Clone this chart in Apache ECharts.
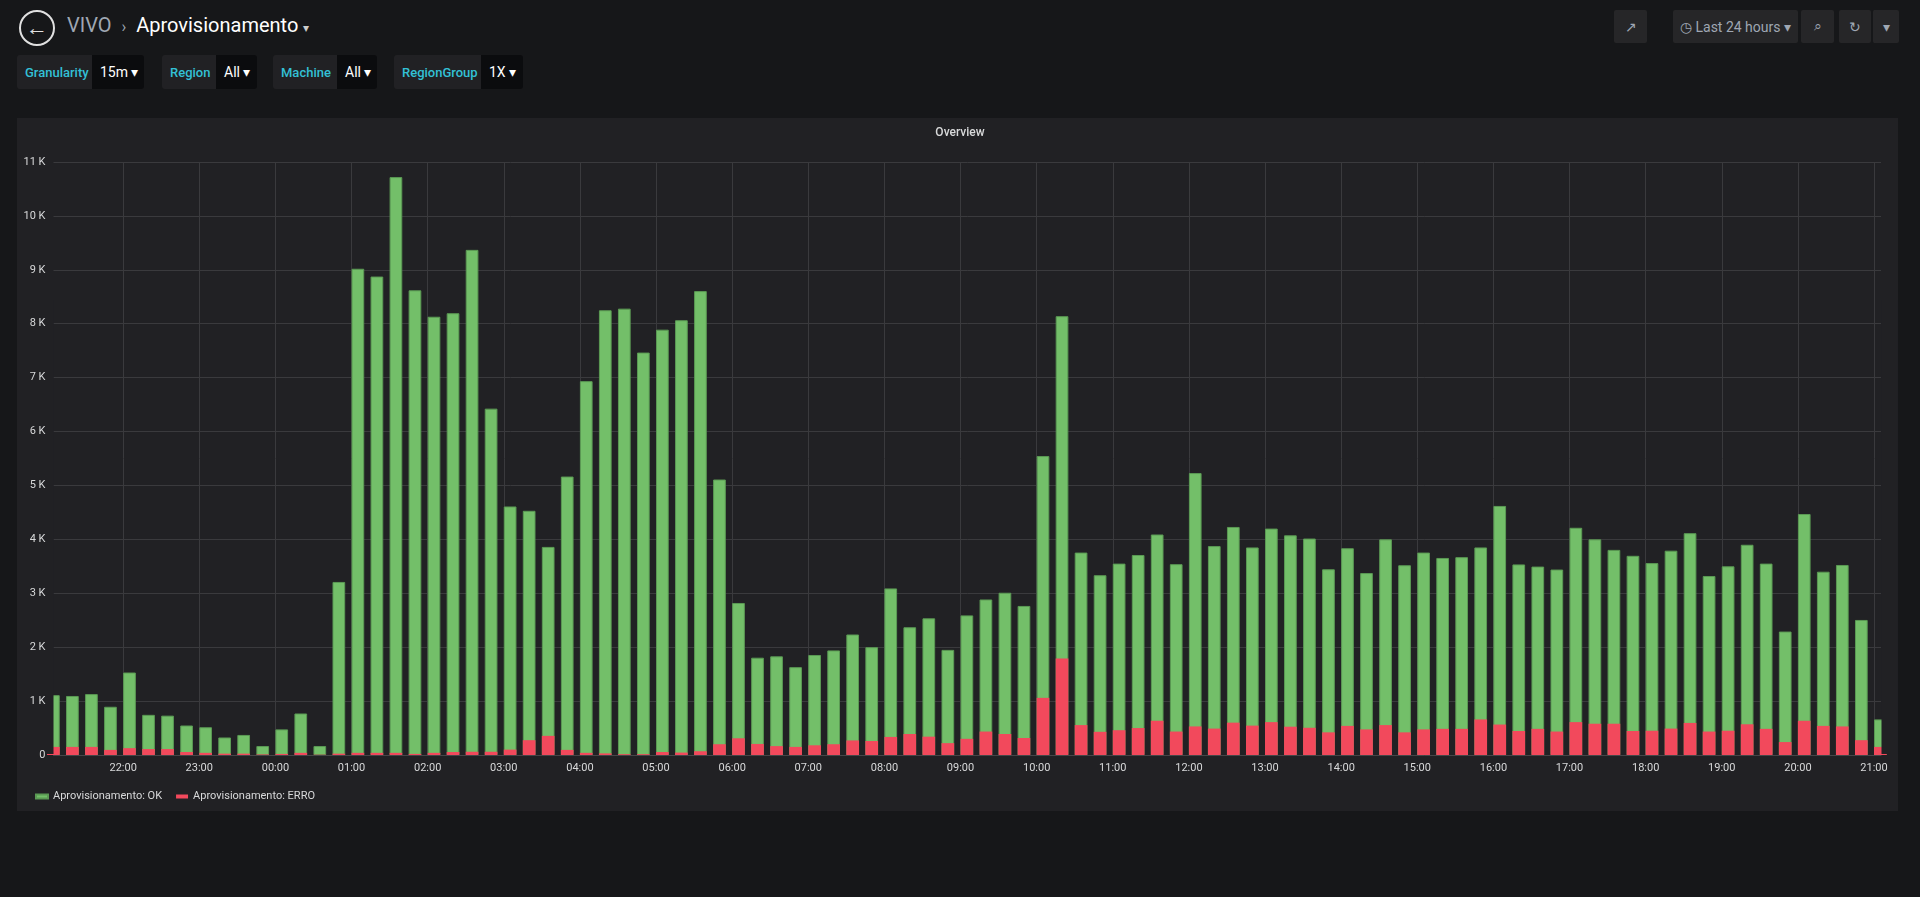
<!DOCTYPE html>
<html><head><meta charset="utf-8">
<script src="https://cdn.jsdelivr.net/npm/echarts@6/dist/echarts.min.js"></script>
<style>
html,body{margin:0;padding:0;width:1920px;height:897px;background:#161719;font-family:Roboto,"Noto Sans",sans-serif;overflow:hidden;position:relative}
.abs{position:absolute}
.back{left:19px;top:10px;width:32px;height:32px;border:2px solid #e0e0e0;border-radius:50%;color:#e0e0e0;font-size:22px;line-height:31px;text-align:center;font-weight:bold}
.crumb{left:67px;top:13px;font-size:20px;color:#9fa7b3}
.crumb b{font-weight:normal;color:#fff}
.filter{top:55px;height:34px;display:flex;font-size:13px;border-radius:3px;overflow:hidden}
.filter .l{background:#212124;color:#33c0d6;font-weight:500;padding:0 8px;display:flex;align-items:center}
.filter .v{background:#0b0c0e;color:#fff;padding:0 8px;display:flex;align-items:center;font-size:14px}
.btn{top:10px;height:33px;background:#262628;border-radius:2px;color:#9fa7b3;display:flex;align-items:center;justify-content:center;font-size:14px}
#panel{left:17px;top:118px;width:1881px;height:693px;background:#212124}
#chart{left:0;top:0;width:1920px;height:897px}
</style></head><body>
<div class="abs back">&#8592;</div>
<div class="abs crumb">VIVO &nbsp;<span style="font-size:16px">&#8250;</span>&nbsp; <b>Aprovisionamento</b> <span style="font-size:12px;color:#ccc">&#9662;</span></div>
<div class="abs filter" style="left:17px;width:127px"><div class="l" style="width:59px">Granularity</div><div class="v">15m&nbsp;&#9662;</div></div>
<div class="abs filter" style="left:162px;width:95px"><div class="l" style="width:38px">Region</div><div class="v">All&nbsp;&#9662;</div></div>
<div class="abs filter" style="left:273px;width:104px"><div class="l" style="width:48px">Machine</div><div class="v">All&nbsp;&#9662;</div></div>
<div class="abs filter" style="left:394px;width:129px"><div class="l" style="width:71px">RegionGroup</div><div class="v">1X&nbsp;&#9662;</div></div>
<div class="abs btn" style="left:1614px;width:33px">&#8599;</div>
<div class="abs btn" style="left:1673px;width:125px">&#9719; Last 24 hours &#9662;</div>
<div class="abs btn" style="left:1801px;width:33px">&#8981;</div>
<div class="abs btn" style="left:1839px;width:32px">&#8635;</div>
<div class="abs btn" style="left:1872px;width:26px;border-left:1px solid #161719">&#9662;</div>
<div class="abs" id="panel"></div>
<div class="abs" id="chart"></div>
<script>
// x positions are minutes after 21:00 of the first day; slots every 15 minutes
const slotMinutes = 15;
const hourTicks = [60,120,180,240,300,360,420,480,540,600,660,720,780,840,900,960,1020,1080,1140,1200,1260,1320,1380,1440];
const tickLabels = ['22:00','23:00','00:00','01:00','02:00','03:00','04:00','05:00','06:00','07:00','08:00','09:00','10:00','11:00','12:00','13:00','14:00','15:00','16:00','17:00','18:00','19:00','20:00','21:00'];
const totalValues = [1110,1095,1130,895,1530,745,730,547,515,325,372,166,475,770,166,3210,9020,8875,10720,8620,8130,8195,9370,6425,4610,4530,3860,5165,6935,8250,8280,7465,7890,8065,8605,5110,2820,1805,1830,1630,1855,1940,2235,2000,3090,2370,2535,1950,2590,2885,3010,2765,5545,8140,3755,3335,3550,3710,4090,3540,5230,3875,4230,3850,4200,4075,4015,3445,3835,3375,4000,3520,3755,3655,3670,3850,4620,3535,3495,3440,4215,4000,3805,3695,3560,3790,4115,3320,3500,3900,3550,2290,4470,3400,3525,2505,660];
const erroValues = [150,150,150,95,127,110,110,55,40,25,25,10,20,40,5,25,40,40,40,20,40,55,60,60,100,275,355,95,40,30,15,15,55,45,70,200,310,205,165,150,180,200,270,260,335,390,340,220,300,435,390,315,1060,1790,555,430,460,500,635,435,530,490,600,545,610,525,505,420,540,475,555,420,475,485,485,660,565,445,485,435,610,580,580,445,450,490,595,435,450,570,485,240,635,540,530,275,150];
const seriesNames = ['Aprovisionamento: OK','Aprovisionamento: ERRO'];
const halfBar = 5; // bars start at their slot time and last ~10 minutes
const okData = totalValues.map((v,i)=>[i*slotMinutes+halfBar, v]);
const erroData = erroValues.map((v,i)=>[i*slotMinutes+halfBar, v]);
const gridColor = '#3a3a3d';
const panelBg = '#212124';
const chart = echarts.init(document.getElementById('chart'));
chart.setOption({
  backgroundColor:'transparent',
  animation:false,
  title:{text:'Overview',left:'center',top:122,textStyle:{color:'#d8d9da',fontSize:12,fontWeight:500,fontFamily:'Roboto'}},
  legend:{left:30,top:786,itemWidth:12,itemHeight:4,itemGap:14,icon:'rect',textStyle:{color:'#d8d9da',fontSize:11,fontFamily:'Roboto'},data:seriesNames},
  grid:{left:53.5,right:39,top:162,bottom:142,containLabel:false,outerBoundsMode:'none'},
  graphic:[
    {type:'rect',z:5,silent:true,shape:{x:46,y:300,width:7.5,height:454},style:{fill:panelBg}},
    {type:'rect',z:5,silent:true,shape:{x:1881.5,y:300,width:16,height:454},style:{fill:panelBg}}
  ],
  xAxis:{type:'value',min:5.1,max:1445.5,
    axisLine:{show:true,lineStyle:{color:'#464648'}},
    axisTick:{show:false,customValues:hourTicks},
    splitLine:{show:false},
    axisLabel:{color:'#d8d9da',fontSize:11,margin:8,fontFamily:'Roboto',customValues:hourTicks,
      formatter:v=>tickLabels[hourTicks.indexOf(v)]||''}},
  yAxis:{type:'value',min:0,max:11000,interval:1000,
    axisLine:{show:false},axisTick:{show:false},
    splitLine:{lineStyle:{color:gridColor}},
    axisLabel:{color:'#d8d9da',fontSize:11,margin:8,fontFamily:'Roboto',formatter:v=>v===0?'0':(v/1000)+' K'}},
  series:[
    {name:seriesNames[0],type:'bar',data:okData,barWidth:12.7,barGap:'-100%',z:2,clip:true,
      itemStyle:{color:'#73bf69',borderColor:'#5b9a54',borderWidth:1},
      markLine:{silent:true,symbol:'none',label:{show:false},z:1,
        lineStyle:{color:gridColor,type:'solid',width:1},
        data:hourTicks.map(t=>({xAxis:t}))}},
    {name:seriesNames[1],type:'bar',data:erroData,barWidth:12.7,barGap:'-100%',z:3,clip:true,
      itemStyle:{color:'#f2495c',borderWidth:0}}
  ]
});
</script></body></html>
